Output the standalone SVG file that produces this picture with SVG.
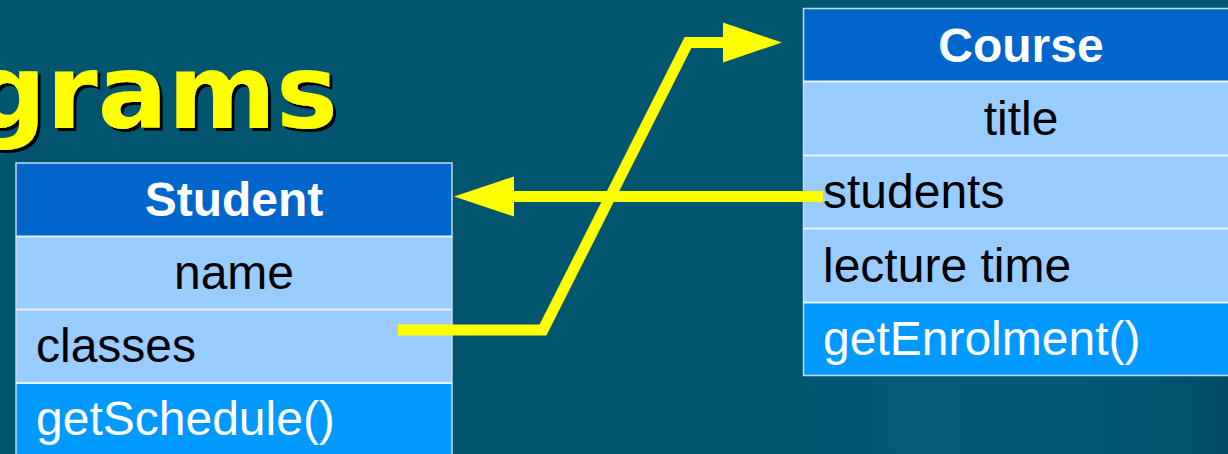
<svg xmlns="http://www.w3.org/2000/svg" width="1228" height="454" viewBox="0 0 1228 454">
  <defs>
    <filter id="shadow" x="-10%" y="-10%" width="130%" height="140%">
      <feDropShadow dx="3" dy="3" stdDeviation="0" flood-color="#000000" flood-opacity="1"/>
    </filter>
    <linearGradient id="sheen" x1="0" y1="0" x2="1" y2="0">
      <stop offset="0" stop-color="#02556F" stop-opacity="0"/>
      <stop offset="0.3" stop-color="#075a7a" stop-opacity="0.8"/>
      <stop offset="0.75" stop-color="#065978" stop-opacity="0.6"/>
      <stop offset="1" stop-color="#014b65" stop-opacity="0.8"/>
    </linearGradient>
  </defs>
  <style>
    .box { stroke: #c8d8ee; stroke-width: 1.5; }
    .hdr { fill: #0066CC; }
    .attr { fill: #99CCFF; }
    .meth { fill: #0099FF; }
    .sep { stroke: #e6f0ff; stroke-width: 2; }
    .title { font-family: "Liberation Sans", Arial, sans-serif; font-weight: bold; font-size: 48px; fill: #ffffff; text-anchor: middle; }
    .txt { font-family: "Liberation Sans", Arial, sans-serif; font-size: 48px; fill: #000000; }
    .mtxt { font-family: "Liberation Sans", Arial, sans-serif; font-size: 48px; fill: #ffffff; }
    .conn { fill: none; stroke: #FFFF00; stroke-width: 11; stroke-linejoin: miter; }
    .head { fill: #FFFF00; }
    .big { font-family: "DejaVu Sans", Verdana, sans-serif; font-weight: bold; font-size: 104px; text-anchor: end; fill: #FFFF00; }
  </style>
  <rect x="0" y="0" width="1228" height="454" fill="#02556F"/>
  <rect x="760" y="376" width="468" height="78" fill="url(#sheen)"/>

  <g id="heading">
    <text class="big" x="338" y="128" filter="url(#shadow)">grams</text>
  </g>

  <g id="student">
    <rect class="hdr" x="16" y="163" width="436" height="73"/>
    <rect class="attr" x="16" y="236" width="436" height="74"/>
    <rect class="attr" x="16" y="310" width="436" height="73"/>
    <rect class="meth" x="16" y="383" width="436" height="80"/>
    <rect class="box" x="16" y="163" width="436" height="300" fill="none"/>
    <line class="sep" x1="16" y1="236.5" x2="452" y2="236.5"/>
    <line class="sep" x1="16" y1="309.5" x2="452" y2="309.5"/>
    <line class="sep" x1="16" y1="383" x2="452" y2="383"/>
    <text class="title" x="234" y="216">Student</text>
    <text class="txt" x="234" y="289" text-anchor="middle">name</text>
    <text class="txt" x="36" y="362">classes</text>
    <text class="mtxt" x="36" y="435">getSchedule()</text>
  </g>

  <g id="course">
    <rect class="hdr" x="803" y="8" width="440" height="73"/>
    <rect class="attr" x="803" y="81" width="440" height="74"/>
    <rect class="attr" x="803" y="155" width="440" height="74"/>
    <rect class="attr" x="803" y="229" width="440" height="73"/>
    <rect class="meth" x="803" y="302" width="440" height="74"/>
    <rect class="box" x="803.5" y="8.5" width="440" height="367" fill="none"/>
    <line class="sep" x1="803" y1="81.5" x2="1243" y2="81.5"/>
    <line class="sep" x1="803" y1="155.5" x2="1243" y2="155.5"/>
    <line class="sep" x1="803" y1="228.5" x2="1243" y2="228.5"/>
    <line class="sep" x1="803" y1="302.5" x2="1243" y2="302.5"/>
    <text class="title" x="1021" y="62">Course</text>
    <text class="txt" x="1021" y="135" text-anchor="middle">title</text>
    <text class="txt" x="823" y="208">students</text>
    <text class="txt" x="823" y="282">lecture time</text>
    <text class="mtxt" x="823" y="355">getEnrolment()</text>
  </g>

  <g id="connectors">
    <path class="conn" d="M823,196.5 H510"/>
    <polygon class="head" points="454,196.5 514,176.5 514,216.5"/>
    <path class="conn" d="M398,330 H543 L688,42.5 H727"/>
    <polygon class="head" points="782,42.5 723,22.5 723,62.5"/>
  </g>
</svg>
